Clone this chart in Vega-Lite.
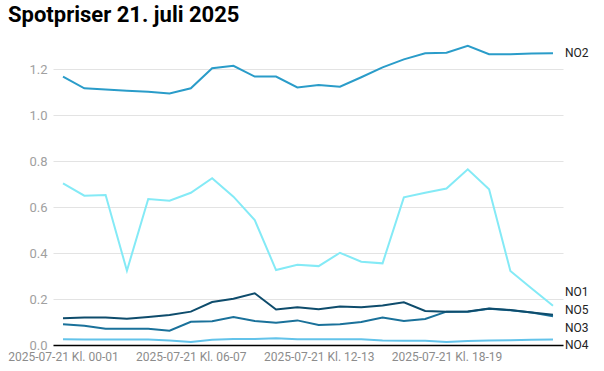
{
  "$schema": "https://vega.github.io/schema/vega-lite/v6.json",
  "autosize": {"type": "none"},
  "width": 510,
  "height": 299,
  "padding": {"left": 53, "top": 46, "right": 41, "bottom": 26},
  "background": "white",
  "title": {"text": "Spotpriser 21. juli 2025", "anchor": "start", "frame": "group", "dx": -45, "dy": 23, "offset": 21, "baseline": "alphabetic", "font": "Roboto", "fontSize": 22, "fontWeight": "bold", "color": "#000000"},
  "config": {"view": {"stroke": null}, "font": "Roboto"},
  "datasets": {
    "prices": [
      {"t": "2025-07-21 Kl. 00-01", "s": "NO1", "v": 0.703}, {"t": "2025-07-21 Kl. 01-02", "s": "NO1", "v": 0.649}, {"t": "2025-07-21 Kl. 02-03", "s": "NO1", "v": 0.652}, {"t": "2025-07-21 Kl. 03-04", "s": "NO1", "v": 0.323}, {"t": "2025-07-21 Kl. 04-05", "s": "NO1", "v": 0.635}, {"t": "2025-07-21 Kl. 05-06", "s": "NO1", "v": 0.627}, {"t": "2025-07-21 Kl. 06-07", "s": "NO1", "v": 0.662}, {"t": "2025-07-21 Kl. 07-08", "s": "NO1", "v": 0.725}, {"t": "2025-07-21 Kl. 08-09", "s": "NO1", "v": 0.645}, {"t": "2025-07-21 Kl. 09-10", "s": "NO1", "v": 0.543}, {"t": "2025-07-21 Kl. 10-11", "s": "NO1", "v": 0.326}, {"t": "2025-07-21 Kl. 11-12", "s": "NO1", "v": 0.349}, {"t": "2025-07-21 Kl. 12-13", "s": "NO1", "v": 0.343}, {"t": "2025-07-21 Kl. 13-14", "s": "NO1", "v": 0.401}, {"t": "2025-07-21 Kl. 14-15", "s": "NO1", "v": 0.362}, {"t": "2025-07-21 Kl. 15-16", "s": "NO1", "v": 0.355}, {"t": "2025-07-21 Kl. 16-17", "s": "NO1", "v": 0.642}, {"t": "2025-07-21 Kl. 17-18", "s": "NO1", "v": 0.662}, {"t": "2025-07-21 Kl. 18-19", "s": "NO1", "v": 0.680}, {"t": "2025-07-21 Kl. 19-20", "s": "NO1", "v": 0.764}, {"t": "2025-07-21 Kl. 20-21", "s": "NO1", "v": 0.677}, {"t": "2025-07-21 Kl. 21-22", "s": "NO1", "v": 0.322}, {"t": "2025-07-21 Kl. 22-23", "s": "NO1", "v": 0.246}, {"t": "2025-07-21 Kl. 23-00", "s": "NO1", "v": 0.171},
      {"t": "2025-07-21 Kl. 00-01", "s": "NO2", "v": 1.167}, {"t": "2025-07-21 Kl. 01-02", "s": "NO2", "v": 1.116}, {"t": "2025-07-21 Kl. 02-03", "s": "NO2", "v": 1.111}, {"t": "2025-07-21 Kl. 03-04", "s": "NO2", "v": 1.105}, {"t": "2025-07-21 Kl. 04-05", "s": "NO2", "v": 1.101}, {"t": "2025-07-21 Kl. 05-06", "s": "NO2", "v": 1.094}, {"t": "2025-07-21 Kl. 06-07", "s": "NO2", "v": 1.116}, {"t": "2025-07-21 Kl. 07-08", "s": "NO2", "v": 1.203}, {"t": "2025-07-21 Kl. 08-09", "s": "NO2", "v": 1.214}, {"t": "2025-07-21 Kl. 09-10", "s": "NO2", "v": 1.167}, {"t": "2025-07-21 Kl. 10-11", "s": "NO2", "v": 1.167}, {"t": "2025-07-21 Kl. 11-12", "s": "NO2", "v": 1.120}, {"t": "2025-07-21 Kl. 12-13", "s": "NO2", "v": 1.130}, {"t": "2025-07-21 Kl. 13-14", "s": "NO2", "v": 1.123}, {"t": "2025-07-21 Kl. 14-15", "s": "NO2", "v": 1.164}, {"t": "2025-07-21 Kl. 15-16", "s": "NO2", "v": 1.207}, {"t": "2025-07-21 Kl. 16-17", "s": "NO2", "v": 1.242}, {"t": "2025-07-21 Kl. 17-18", "s": "NO2", "v": 1.268}, {"t": "2025-07-21 Kl. 18-19", "s": "NO2", "v": 1.271}, {"t": "2025-07-21 Kl. 19-20", "s": "NO2", "v": 1.301}, {"t": "2025-07-21 Kl. 20-21", "s": "NO2", "v": 1.264}, {"t": "2025-07-21 Kl. 21-22", "s": "NO2", "v": 1.264}, {"t": "2025-07-21 Kl. 22-23", "s": "NO2", "v": 1.267}, {"t": "2025-07-21 Kl. 23-00", "s": "NO2", "v": 1.268},
      {"t": "2025-07-21 Kl. 00-01", "s": "NO3", "v": 0.090}, {"t": "2025-07-21 Kl. 01-02", "s": "NO3", "v": 0.084}, {"t": "2025-07-21 Kl. 02-03", "s": "NO3", "v": 0.071}, {"t": "2025-07-21 Kl. 03-04", "s": "NO3", "v": 0.071}, {"t": "2025-07-21 Kl. 04-05", "s": "NO3", "v": 0.071}, {"t": "2025-07-21 Kl. 05-06", "s": "NO3", "v": 0.062}, {"t": "2025-07-21 Kl. 06-07", "s": "NO3", "v": 0.101}, {"t": "2025-07-21 Kl. 07-08", "s": "NO3", "v": 0.103}, {"t": "2025-07-21 Kl. 08-09", "s": "NO3", "v": 0.122}, {"t": "2025-07-21 Kl. 09-10", "s": "NO3", "v": 0.104}, {"t": "2025-07-21 Kl. 10-11", "s": "NO3", "v": 0.097}, {"t": "2025-07-21 Kl. 11-12", "s": "NO3", "v": 0.107}, {"t": "2025-07-21 Kl. 12-13", "s": "NO3", "v": 0.087}, {"t": "2025-07-21 Kl. 13-14", "s": "NO3", "v": 0.090}, {"t": "2025-07-21 Kl. 14-15", "s": "NO3", "v": 0.100}, {"t": "2025-07-21 Kl. 15-16", "s": "NO3", "v": 0.119}, {"t": "2025-07-21 Kl. 16-17", "s": "NO3", "v": 0.104}, {"t": "2025-07-21 Kl. 17-18", "s": "NO3", "v": 0.113}, {"t": "2025-07-21 Kl. 18-19", "s": "NO3", "v": 0.145}, {"t": "2025-07-21 Kl. 19-20", "s": "NO3", "v": 0.145}, {"t": "2025-07-21 Kl. 20-21", "s": "NO3", "v": 0.158}, {"t": "2025-07-21 Kl. 21-22", "s": "NO3", "v": 0.151}, {"t": "2025-07-21 Kl. 22-23", "s": "NO3", "v": 0.141}, {"t": "2025-07-21 Kl. 23-00", "s": "NO3", "v": 0.125},
      {"t": "2025-07-21 Kl. 00-01", "s": "NO4", "v": 0.025}, {"t": "2025-07-21 Kl. 01-02", "s": "NO4", "v": 0.024}, {"t": "2025-07-21 Kl. 02-03", "s": "NO4", "v": 0.024}, {"t": "2025-07-21 Kl. 03-04", "s": "NO4", "v": 0.024}, {"t": "2025-07-21 Kl. 04-05", "s": "NO4", "v": 0.024}, {"t": "2025-07-21 Kl. 05-06", "s": "NO4", "v": 0.020}, {"t": "2025-07-21 Kl. 06-07", "s": "NO4", "v": 0.013}, {"t": "2025-07-21 Kl. 07-08", "s": "NO4", "v": 0.023}, {"t": "2025-07-21 Kl. 08-09", "s": "NO4", "v": 0.026}, {"t": "2025-07-21 Kl. 09-10", "s": "NO4", "v": 0.026}, {"t": "2025-07-21 Kl. 10-11", "s": "NO4", "v": 0.029}, {"t": "2025-07-21 Kl. 11-12", "s": "NO4", "v": 0.025}, {"t": "2025-07-21 Kl. 12-13", "s": "NO4", "v": 0.025}, {"t": "2025-07-21 Kl. 13-14", "s": "NO4", "v": 0.025}, {"t": "2025-07-21 Kl. 14-15", "s": "NO4", "v": 0.025}, {"t": "2025-07-21 Kl. 15-16", "s": "NO4", "v": 0.020}, {"t": "2025-07-21 Kl. 16-17", "s": "NO4", "v": 0.019}, {"t": "2025-07-21 Kl. 17-18", "s": "NO4", "v": 0.019}, {"t": "2025-07-21 Kl. 18-19", "s": "NO4", "v": 0.013}, {"t": "2025-07-21 Kl. 19-20", "s": "NO4", "v": 0.017}, {"t": "2025-07-21 Kl. 20-21", "s": "NO4", "v": 0.020}, {"t": "2025-07-21 Kl. 21-22", "s": "NO4", "v": 0.021}, {"t": "2025-07-21 Kl. 22-23", "s": "NO4", "v": 0.023}, {"t": "2025-07-21 Kl. 23-00", "s": "NO4", "v": 0.024},
      {"t": "2025-07-21 Kl. 00-01", "s": "NO5", "v": 0.116}, {"t": "2025-07-21 Kl. 01-02", "s": "NO5", "v": 0.120}, {"t": "2025-07-21 Kl. 02-03", "s": "NO5", "v": 0.120}, {"t": "2025-07-21 Kl. 03-04", "s": "NO5", "v": 0.114}, {"t": "2025-07-21 Kl. 04-05", "s": "NO5", "v": 0.122}, {"t": "2025-07-21 Kl. 05-06", "s": "NO5", "v": 0.130}, {"t": "2025-07-21 Kl. 06-07", "s": "NO5", "v": 0.145}, {"t": "2025-07-21 Kl. 07-08", "s": "NO5", "v": 0.187}, {"t": "2025-07-21 Kl. 08-09", "s": "NO5", "v": 0.201}, {"t": "2025-07-21 Kl. 09-10", "s": "NO5", "v": 0.225}, {"t": "2025-07-21 Kl. 10-11", "s": "NO5", "v": 0.154}, {"t": "2025-07-21 Kl. 11-12", "s": "NO5", "v": 0.164}, {"t": "2025-07-21 Kl. 12-13", "s": "NO5", "v": 0.155}, {"t": "2025-07-21 Kl. 13-14", "s": "NO5", "v": 0.167}, {"t": "2025-07-21 Kl. 14-15", "s": "NO5", "v": 0.164}, {"t": "2025-07-21 Kl. 15-16", "s": "NO5", "v": 0.172}, {"t": "2025-07-21 Kl. 16-17", "s": "NO5", "v": 0.186}, {"t": "2025-07-21 Kl. 17-18", "s": "NO5", "v": 0.148}, {"t": "2025-07-21 Kl. 18-19", "s": "NO5", "v": 0.145}, {"t": "2025-07-21 Kl. 19-20", "s": "NO5", "v": 0.146}, {"t": "2025-07-21 Kl. 20-21", "s": "NO5", "v": 0.159}, {"t": "2025-07-21 Kl. 21-22", "s": "NO5", "v": 0.152}, {"t": "2025-07-21 Kl. 22-23", "s": "NO5", "v": 0.141}, {"t": "2025-07-21 Kl. 23-00", "s": "NO5", "v": 0.132}
    ]
  },
  "data": {"name": "prices"},
  "encoding": {
    "x": {"field": "t", "type": "ordinal", "scale": {"type": "point", "padding": 0.47},
      "axis": {"title": null, "values": ["2025-07-21 Kl. 00-01", "2025-07-21 Kl. 06-07", "2025-07-21 Kl. 12-13", "2025-07-21 Kl. 18-19"], "labelAngle": 0, "labelFont": "Roboto", "labelFontSize": 12, "labelColor": "#8c8c8c", "ticks": false, "domainColor": "#000000", "domainWidth": 1.5, "labelPadding": 6, "grid": false}},
    "y": {"field": "v", "type": "quantitative", "scale": {"domain": [0, 1.3], "nice": false, "zero": true},
      "axis": {"title": null, "values": [0, 0.2, 0.4, 0.6, 0.8, 1.0, 1.2], "format": ".1f", "labelFont": "Roboto", "labelFontSize": 13, "labelColor": "#a0a0a0", "ticks": false, "domain": false, "gridColor": "#e3e3e3", "gridWidth": 1, "labelPadding": 6}}
  },
  "layer": [
    {"mark": {"type": "line", "strokeWidth": 2},
     "encoding": {"color": {"field": "s", "type": "nominal", "legend": null,
       "scale": {"domain": ["NO1", "NO2", "NO3", "NO4", "NO5"], "range": ["#84eaf6", "#2a9cc9", "#1a719a", "#63c3ea", "#0e4c6c"]}}}},
    {"transform": [{"filter": "datum.t == '2025-07-21 Kl. 23-00' && datum.s == 'NO2'"}],
     "mark": {"type": "text", "align": "left", "baseline": "middle", "dx": 12, "dy": 0, "font": "Roboto", "fontSize": 12, "color": "#222222"},
     "encoding": {"text": {"field": "s"}}},
    {"transform": [{"filter": "datum.t == '2025-07-21 Kl. 23-00' && datum.s == 'NO1'"}],
     "mark": {"type": "text", "align": "left", "baseline": "middle", "dx": 12, "dy": -14, "font": "Roboto", "fontSize": 12, "color": "#222222"},
     "encoding": {"text": {"field": "s"}}},
    {"transform": [{"filter": "datum.t == '2025-07-21 Kl. 23-00' && datum.s == 'NO5'"}],
     "mark": {"type": "text", "align": "left", "baseline": "middle", "dx": 12, "dy": -5, "font": "Roboto", "fontSize": 12, "color": "#222222"},
     "encoding": {"text": {"field": "s"}}},
    {"transform": [{"filter": "datum.t == '2025-07-21 Kl. 23-00' && datum.s == 'NO3'"}],
     "mark": {"type": "text", "align": "left", "baseline": "middle", "dx": 12, "dy": 11.5, "font": "Roboto", "fontSize": 12, "color": "#222222"},
     "encoding": {"text": {"field": "s"}}},
    {"transform": [{"filter": "datum.t == '2025-07-21 Kl. 23-00' && datum.s == 'NO4'"}],
     "mark": {"type": "text", "align": "left", "baseline": "middle", "dx": 12, "dy": 5.5, "font": "Roboto", "fontSize": 12, "color": "#222222"},
     "encoding": {"text": {"field": "s"}}}
  ]
}
